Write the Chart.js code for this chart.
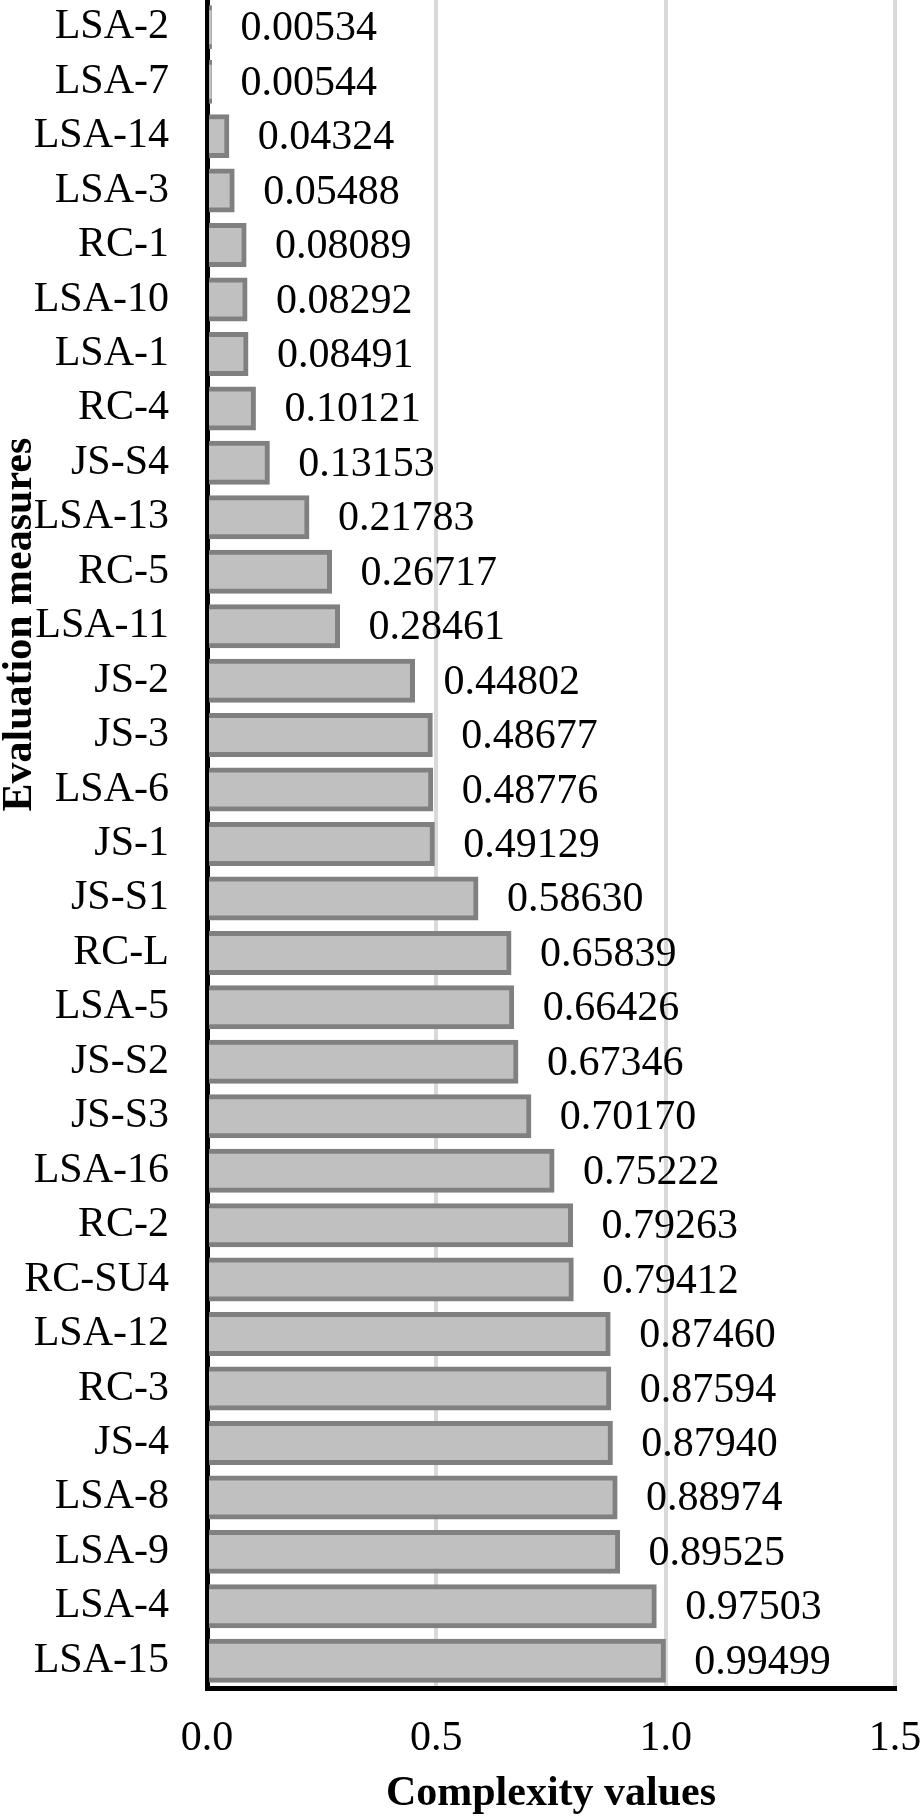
<!DOCTYPE html>
<html>
<head>
<meta charset="utf-8">
<script src="https://cdn.jsdelivr.net/npm/chart.js@4.4.0/dist/chart.umd.min.js"></script>
<style>
  html, body { margin: 0; padding: 0; background: #fff; overflow: hidden; }
  canvas { display: block; }
</style>
</head>
<body>
<canvas id="complexityChart" width="920" height="1819"></canvas>
<script>
// Evaluation measures, top to bottom
const measures = [
  "LSA-2", "LSA-7", "LSA-14", "LSA-3", "RC-1", "LSA-10", "LSA-1", "RC-4",
  "JS-S4", "LSA-13", "RC-5", "LSA-11", "JS-2", "JS-3", "LSA-6", "JS-1",
  "JS-S1", "RC-L", "LSA-5", "JS-S2", "JS-S3", "LSA-16", "RC-2", "RC-SU4",
  "LSA-12", "RC-3", "JS-4", "LSA-8", "LSA-9", "LSA-4", "LSA-15"
]

// Complexity value of each measure
const complexity = [
  0.00534, 0.00544, 0.04324, 0.05488, 0.08089, 0.08292, 0.08491, 0.10121,
  0.13153, 0.21783, 0.26717, 0.28461, 0.44802, 0.48677, 0.48776, 0.49129,
  0.58630, 0.65839, 0.66426, 0.67346, 0.70170, 0.75222, 0.79263, 0.79412,
  0.87460, 0.87594, 0.87940, 0.88974, 0.89525, 0.97503, 0.99499
]

// x axis ticks
const xMin = 0
const xMax = 1.5
const xStep = 0.5

const FONT = "'Liberation Serif', 'Times New Roman', serif"

// Value printed to the right of each bar
const valueLabels = {
  id: "valueLabels",
  afterDatasetsDraw(chart) {
    const ctx = chart.ctx
    const meta = chart.getDatasetMeta(0)
    ctx.save()
    ctx.font = `42px ${FONT}`
    ctx.fillStyle = "#000"
    ctx.textAlign = "left"
    ctx.textBaseline = "middle"
    meta.data.forEach((bar, i) => {
      ctx.fillText(complexity[i].toFixed(5), bar.x + 31, bar.y + 2)
    })
    ctx.restore()
  }
}

// Y axis title, placed above centre like the original
const yTitle = {
  id: "yTitle",
  afterDraw(chart) {
    const ctx = chart.ctx
    const area = chart.chartArea
    ctx.save()
    ctx.translate(31, area.top + (area.bottom - area.top) * 0.37)
    ctx.rotate(-Math.PI / 2)
    ctx.font = `bold 42px ${FONT}`
    ctx.fillStyle = "#000"
    ctx.textAlign = "center"
    ctx.textBaseline = "alphabetic"
    ctx.fillText("Evaluation measures", 0, 0)
    ctx.restore()
  }
}

new Chart(document.getElementById("complexityChart"), {
  type: "bar",
  data: {
    labels: measures,
    datasets: [{
      data: complexity,
      backgroundColor: "#c0c0c0",
      borderColor: "#808080",
      borderWidth: 5,
      inflateAmount: 2.5,   // outline centred on the bar edge, as in the original
      barPercentage: 0.716,
      categoryPercentage: 1
    }]
  },
  options: {
    indexAxis: "y",
    responsive: false,
    animation: false,
    devicePixelRatio: 1,
    layout: { padding: 0 },
    plugins: { legend: { display: false }, tooltip: { enabled: false } },
    scales: {
      x: {
        min: xMin,
        max: xMax,
        ticks: {
          stepSize: xStep,
          padding: 26,
          color: "#000",
          font: { family: FONT, size: 42 },
          callback: v => Number(v).toFixed(1)
        },
        grid: {
          drawTicks: false,
          lineWidth: 4,
          color: c => (c.tick && c.tick.value === 0 ? "rgba(0,0,0,0)" : "#d9d9d9")
        },
        border: { color: "#000", width: 5 },
        title: {
          display: true,
          text: "Complexity values",
          color: "#000",
          font: { family: FONT, size: 42, weight: "bold", lineHeight: 1.2 },
          padding: { top: 0, bottom: 0 }
        },
        afterFit(s) {
          s.height = 131
          s.paddingLeft = 0
          s.paddingRight = 25
        }
      },
      y: {
        ticks: {
          padding: 38,
          color: "#000",
          font: { family: FONT, size: 42 },
          autoSkip: false
        },
        grid: { display: false, drawTicks: false },
        border: { color: "#000", width: 5 },
        afterFit(s) {
          s.width = 207
          s.paddingTop = 0
          s.paddingBottom = 0
        }
      }
    }
  },
  plugins: [valueLabels, yTitle]
})
</script>
</body>
</html>
